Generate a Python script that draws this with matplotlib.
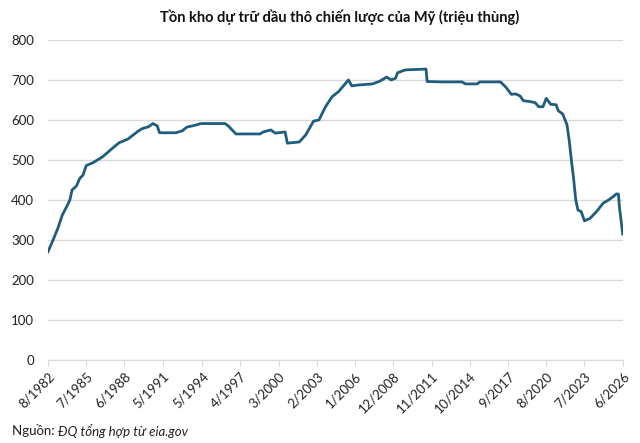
import pandas as pd
import matplotlib
matplotlib.use("Agg")
import matplotlib.pyplot as plt

# Strategic petroleum reserve, million barrels
dates = [
    "1982-08", "1982-12", "1983-05", "1983-09", "1984-01", "1984-04", "1984-06",
    "1984-10", "1985-01", "1985-04", "1985-07", "1986-01", "1986-10", "1987-06",
    "1988-01", "1988-09", "1989-06", "1989-10", "1990-04", "1990-08", "1990-12",
    "1991-02", "1992-05", "1992-11", "1993-03", "1993-11", "1994-04", "1996-02",
    "1996-05", "1996-12", "1998-10", "1999-01", "1999-08", "1999-12", "2000-09",
    "2000-11", "2001-10", "2002-04", "2002-11", "2003-04", "2003-10", "2004-04",
    "2004-10", "2005-03", "2005-07", "2005-10", "2006-03", "2007-05", "2007-11",
    "2008-06", "2008-10", "2009-02", "2009-04", "2009-11", "2011-06", "2011-07",
    "2012-08", "2014-03", "2014-06", "2015-05", "2015-07", "2017-02", "2017-07",
    "2017-12", "2018-04", "2018-08", "2018-11", "2019-05", "2019-10", "2020-01",
    "2020-05", "2020-08", "2020-12", "2021-05", "2021-07", "2021-11", "2022-03",
    "2022-05", "2022-07", "2022-09", "2022-11", "2023-01", "2023-04", "2023-07",
    "2023-12", "2024-06", "2024-12", "2025-05", "2025-09", "2025-12", "2026-02",
    "2026-03", "2026-06",
]
stock = [
    271, 296, 329, 362, 383, 400, 425,
    435, 454, 462, 486, 493, 508, 527,
    543, 552, 571, 578, 583, 591, 585,
    568, 568, 573, 582, 587, 591, 591,
    585, 565, 565, 570, 575, 567, 570,
    542, 545, 563, 597, 600, 633, 658,
    671, 687, 700, 685, 687, 690, 696,
    707, 700, 704, 718, 725, 727, 696,
    695, 695, 690, 690, 695, 695, 682,
    664, 665, 660, 648, 646, 643, 633,
    633, 654, 639, 638, 623, 615, 588,
    550, 500, 454, 400, 375, 371, 348,
    354, 371, 392, 400, 408, 415, 415,
    383, 315,
]
tick_labels = ["8/1982", "7/1985", "6/1988", "5/1991", "5/1994", "4/1997",
               "3/2000", "2/2003", "1/2006", "12/2008", "11/2011", "10/2014",
               "9/2017", "8/2020", "7/2023", "6/2026"]

plt.rcParams["font.family"] = ["Lato", "DejaVu Sans"]

x = pd.to_datetime(dates, format="%Y-%m")
tick_pos = pd.to_datetime(tick_labels, format="%m/%Y")

fig = plt.figure(figsize=(6.4, 4.43), dpi=100)
ax = fig.add_axes([0.075, 0.187, 0.898, 0.723])

ax.plot(x, stock, color="#1f5d7c", linewidth=2.0, solid_joinstyle="round")

ax.set_ylim(0, 800)
ax.set_yticks(range(0, 801, 100))
ax.set_xlim(tick_pos[0], tick_pos[-1])
ax.set_xticks(tick_pos)
ax.set_xticklabels(tick_labels, rotation=45, ha="right", rotation_mode="anchor")

ax.grid(axis="y", color="#d9d9d9", linewidth=1.0)
ax.set_axisbelow(True)
for s in ["top", "right", "left"]:
    ax.spines[s].set_visible(False)
ax.spines["bottom"].set_color("#d9d9d9")
ax.tick_params(axis="y", length=0, pad=10, labelsize=9.5, colors="#222222")
ax.tick_params(axis="x", length=4, color="#d9d9d9", pad=3, labelsize=9.5,
               labelcolor="#222222")

fig.text(0.53, 0.962, "Tồn kho dự trữ dầu thô chiến lược của Mỹ (triệu thùng)",
         ha="center", va="center", fontsize=10.5, fontweight="bold", color="#111111")

# source note: plain prefix + italic rest
fig.canvas.draw()
r = fig.canvas.get_renderer()
t = fig.text(0.019, 0.028, "Nguồn: ", fontsize=9.5, color="#222222", va="center")
bb = t.get_window_extent(renderer=r)
fig.text(bb.x1 / fig.bbox.width, 0.028, "ĐQ tổng hợp từ eia.gov", fontsize=9.5,
         style="italic", color="#222222", va="center")

fig.savefig("out.png", dpi=100)
